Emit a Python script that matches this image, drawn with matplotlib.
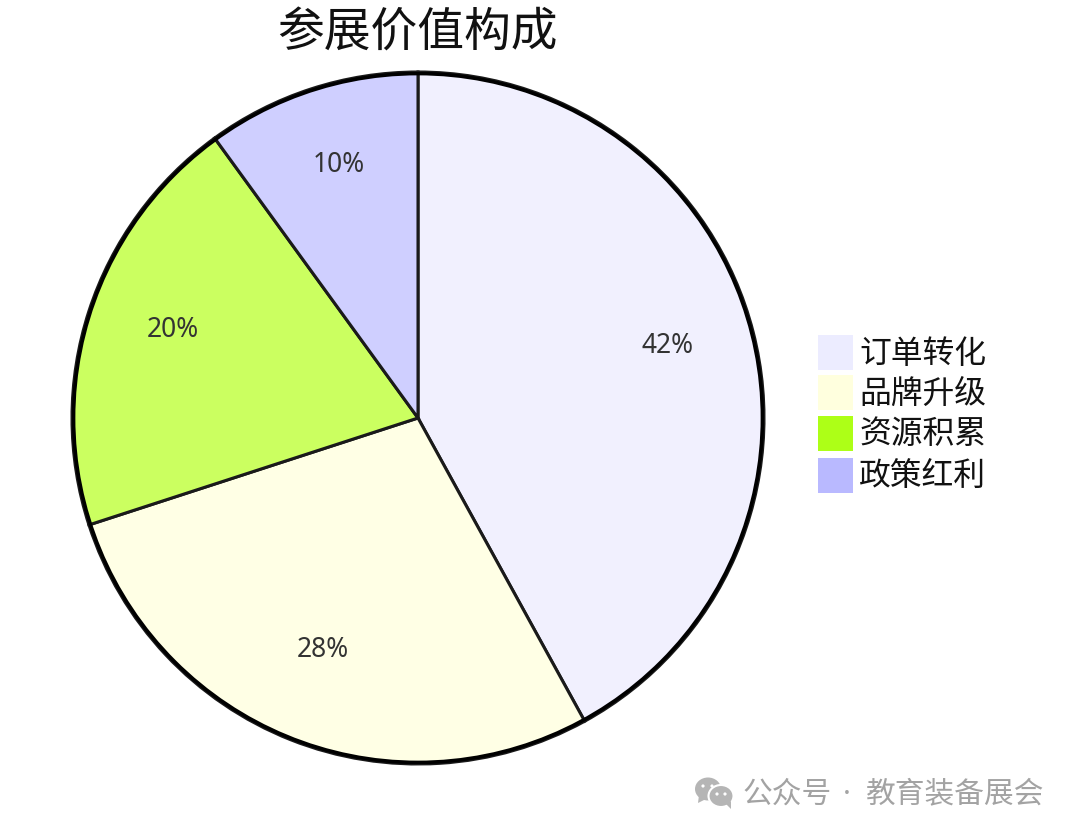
import matplotlib
matplotlib.use("Agg")
import matplotlib.pyplot as plt
from matplotlib.patches import Rectangle, Ellipse, Polygon, Circle

plt.rcParams["font.family"] = ["Noto Sans CJK SC", "DejaVu Sans"]

labels = ["订单转化", "品牌升级", "资源积累", "政策红利"]
values = [42, 28, 20, 10]
pct_labels = ["42%", "28%", "20%", "10%"]
slice_colors = ["#F1F0FE", "#FFFFE5", "#CBFF60", "#CFCFFF"]
legend_colors = ["#ECECFF", "#FFFFDE", "#ADFF17", "#B9B9FF"]
title = "参展价值构成"
watermark = ["公众号", "·", "教育装备展会"]

W, H = 1080, 836
fig = plt.figure(figsize=(W / 100, H / 100), dpi=100, facecolor="white")

# pie, clockwise from 12 o'clock
pie_ax = fig.add_axes([72 / W, 1 - 764 / H, 692 / W, 692 / H])
wedges, _ = pie_ax.pie(
    values, colors=slice_colors, startangle=90, counterclock=False, radius=1.0,
    wedgeprops={"edgecolor": "#1A1A1A", "linewidth": 2.2},
)
pie_ax.add_patch(Circle((0, 0), 0.9955, fill=False, edgecolor="#000000", linewidth=2.6))
pie_ax.set_xlim(-1.0, 1.0)
pie_ax.set_ylim(-1.0, 1.0)
pie_ax.set_aspect("equal")
pie_ax.axis("off")

# overlay in pixel coordinates, above the pie
ax = fig.add_axes([0, 0, 1, 1], zorder=5)
ax.patch.set_alpha(0)
ax.set_xlim(0, W)
ax.set_ylim(H, 0)
ax.axis("off")

# percent labels
label_pos = [(667, 346), (323, 650), (173, 330), (339, 165)]
for (x, y), t in zip(label_pos, pct_labels):
    ax.text(x, y, t, fontsize=19, color="#333333", ha="center", va="center",
            family=["Noto Sans", "DejaVu Sans"])

ax.text(417, 33, title, fontsize=33.7, color="#111111", ha="center", va="center")

# legend
legend_y = [352, 392, 433, 475]
for y, c, t in zip(legend_y, legend_colors, labels):
    ax.add_patch(Rectangle((818, y - 17.5), 35, 35, facecolor=c, edgecolor="none"))
    ax.text(859, y + 1.5, t, fontsize=22.9, color="#111111", ha="left", va="center")

# watermark icon, two speech bubbles
gray = "#B5B5B5"
ax.add_patch(Ellipse((708, 789), 26, 23, facecolor=gray, edgecolor="none"))
ax.add_patch(Polygon([(699, 795), (698, 803), (706, 799)], facecolor=gray, edgecolor="none"))
ax.add_patch(Ellipse((721, 796), 25, 22, facecolor=gray, edgecolor="white", linewidth=1.5))
ax.add_patch(Polygon([(726, 804), (731, 809), (731, 801)], facecolor=gray, edgecolor="none"))
for ex, ey in [(703, 786), (712, 786), (717, 794), (725, 794)]:
    ax.add_patch(Circle((ex, ey), 1.6, facecolor="white", edgecolor="none"))
ax.text(742, 794, watermark[0], fontsize=21.4, color="#A3A3A3", ha="left", va="center")
ax.text(847, 794, watermark[1], fontsize=21.4, color="#A3A3A3", ha="center", va="center",
        family=["Noto Sans", "DejaVu Sans"])
ax.text(866, 794, watermark[2], fontsize=21.4, color="#A3A3A3", ha="left", va="center")

fig.savefig("out.png", dpi=100)
